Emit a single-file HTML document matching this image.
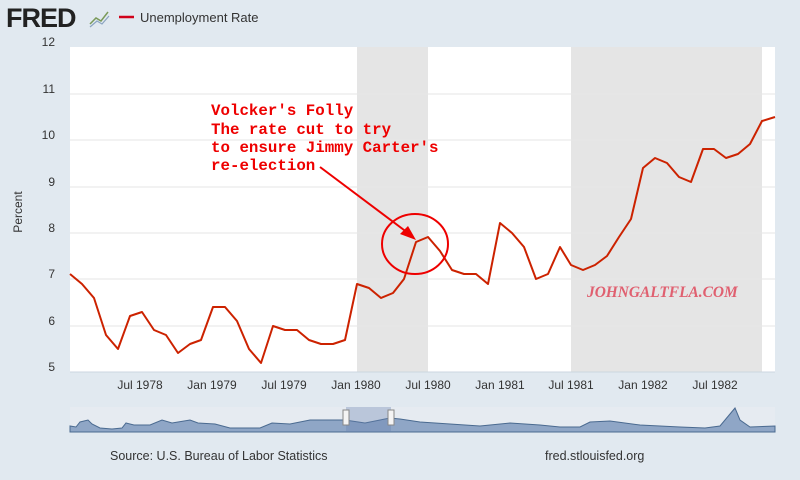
<!DOCTYPE html>
<html><head><style>
body{margin:0;width:800px;height:475px;background:#e1e9f0;overflow:hidden;font-family:"Liberation Sans",sans-serif}
</style></head><body>
<svg width="800" height="475" xmlns="http://www.w3.org/2000/svg">
<rect width="800" height="475" fill="#e1e9f0"/>
<text x="6" y="27" font-size="27" font-weight="bold" fill="#222" font-family="Liberation Sans" letter-spacing="-1">FRED</text>
<polyline points="90,24 96,18 101,21 108,12" fill="none" stroke="#7a9a5a" stroke-width="1.5"/>
<polyline points="90,27 97,21 102,24 109,16" fill="none" stroke="#8aa4c0" stroke-width="1.2"/>
<line x1="119" y1="17" x2="134" y2="17" stroke="#d0021b" stroke-width="2.5"/>
<text x="140" y="22" font-size="13" fill="#333">Unemployment Rate</text>
<rect x="70" y="47" width="705" height="325" fill="#fff"/>
<rect x="357" y="47" width="71" height="325" fill="#e5e5e5"/>
<rect x="571" y="47" width="191" height="325" fill="#e5e5e5"/>
<g stroke="#e6e6e6" stroke-width="1">
<line x1="70" y1="94" x2="775" y2="94"/><line x1="70" y1="140" x2="775" y2="140"/>
<line x1="70" y1="187" x2="775" y2="187"/><line x1="70" y1="233" x2="775" y2="233"/>
<line x1="70" y1="279" x2="775" y2="279"/><line x1="70" y1="326" x2="775" y2="326"/>
<line x1="70" y1="372" x2="775" y2="372" stroke="#ccd6e0"/>
</g>
<g font-size="12" fill="#333" text-anchor="end">
<text x="55" y="46">12</text><text x="55" y="93">11</text><text x="55" y="139">10</text>
<text x="55" y="186">9</text><text x="55" y="232">8</text><text x="55" y="278">7</text>
<text x="55" y="325">6</text><text x="55" y="371">5</text>
</g>
<text x="22" y="212" font-size="12" fill="#333" transform="rotate(-90 22 212)" text-anchor="middle">Percent</text>
<g font-size="12" fill="#333" text-anchor="middle">
<text x="140" y="389">Jul 1978</text>
<text x="212" y="389">Jan 1979</text><text x="284" y="389">Jul 1979</text>
<text x="356" y="389">Jan 1980</text><text x="428" y="389">Jul 1980</text>
<text x="500" y="389">Jan 1981</text><text x="571" y="389">Jul 1981</text>
<text x="643" y="389">Jan 1982</text><text x="715" y="389">Jul 1982</text>
</g>
<polyline fill="none" stroke="#cc2200" stroke-width="2" stroke-linejoin="round" points="70,274 82,284 94,298 106,335 118,349 130,316 142,312 154,330 166,335 178,353 190,344 201,340 213,307 225,307 237,321 249,349 261,363 273,326 285,330 297,330 309,340 321,344 333,344 345,340 357,284 369,288 381,298 393,293 404,279 416,242 428,237 440,251 452,270 464,274 476,274 488,284 500,223 512,233 524,247 536,279 548,274 560,247 571,265 583,270 595,265 607,256 619,237 631,219 643,168 655,158 667,163 679,177 691,182 703,149 714,149 726,158 738,154 750,144 762,121 775,117"/>
<g font-family="Liberation Mono" font-weight="bold" font-size="15.8" fill="#e00">
<text x="211" y="115">Volcker's Folly</text>
<text x="211" y="134">The rate cut to try</text>
<text x="211" y="152">to ensure Jimmy Carter's</text>
<text x="211" y="170">re-election</text>
</g>
<line x1="320" y1="167" x2="408" y2="233" stroke="#e00" stroke-width="2"/>
<polygon points="416,240 400,234 408,226" fill="#e00"/>
<ellipse cx="415" cy="244" rx="33" ry="30" fill="none" stroke="#e00" stroke-width="2"/>
<text x="587" y="297" font-family="Liberation Serif" font-style="italic" font-weight="bold" font-size="15.4" fill="#e06070">JOHNGALTFLA.COM</text>
<rect x="70" y="407" width="705" height="25" fill="#e6ebf1"/>
<polygon fill="#8fa6c6" stroke="#4a6a90" stroke-width="1" points="70,432 70,426 76,427 80,422 88,420 92,424 100,428 112,429 122,428 126,423 134,425 150,425 162,420 172,423 190,420 198,423 215,424 230,428 260,428 272,423 290,424 310,420 330,420 345,420 365,423 380,420 390,418 400,419 420,422 450,424 480,426 510,423 540,425 560,427 580,427 590,422 610,421 640,425 680,427 705,428 720,426 735,408 740,420 750,427 775,426 775,432"/>
<rect x="346" y="407" width="45" height="25" fill="#6680b0" opacity="0.35"/>
<rect x="343" y="410" width="6" height="15" fill="#f4f4f4" stroke="#888"/>
<rect x="388" y="410" width="6" height="15" fill="#f4f4f4" stroke="#888"/>
<text x="110" y="460" font-size="12.5" fill="#333">Source: U.S. Bureau of Labor Statistics</text>
<text x="545" y="460" font-size="12.5" fill="#333">fred.stlouisfed.org</text>
</svg>
</body></html>
